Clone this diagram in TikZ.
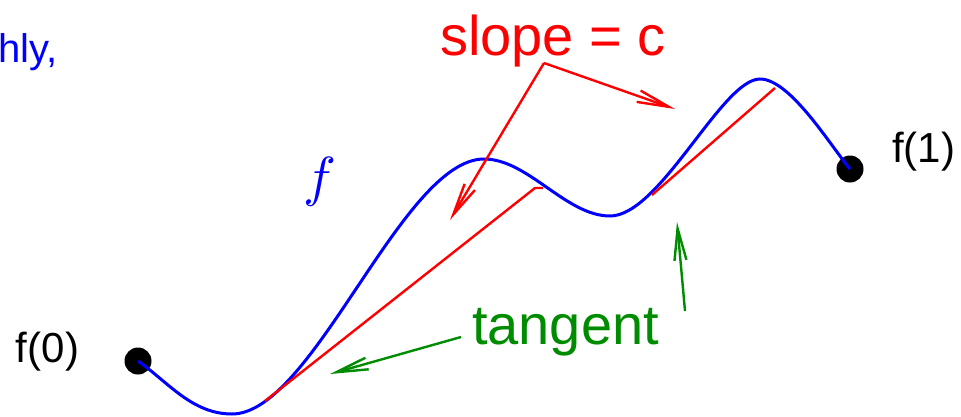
\documentclass[tikz,border=0pt]{standalone}
\usepackage{fontspec}
\setmainfont{Liberation Sans}
\usepackage{tikz}
\usetikzlibrary{arrows.meta}

\definecolor{tgreen}{RGB}{0,140,0}

\tikzset{
  curve/.style={blue, line width=3pt},
  tanline/.style={red, line width=2.4pt},
  redarrow/.style={red, line width=2.4pt, -{Straight Barb[length=32pt,width=12pt]}},
  greenarrow/.style={tgreen, line width=2.4pt, -{Straight Barb[length=32pt,width=12pt]}},
  dot/.style={circle, fill=black, minimum size=27pt, inner sep=0pt},
  bigtext/.style={font=\fontsize{56}{60}\selectfont, inner sep=0pt},
  endlabel/.style={font=\fontsize{42}{46}\selectfont, inner sep=0pt}
}

\begin{document}
\begin{tikzpicture}[x=1pt, y=-1pt]
\useasboundingbox (0,0) rectangle (961,416);

\node[blue, font=\fontsize{40}{44}\selectfont, inner sep=0pt, anchor=base west] (rough) at (-2,62) {hly,};

\node[dot] (f0) at (138,361) {};
\node[dot] (f1) at (850,169) {};
\node[endlabel, anchor=base] (f0lbl) at (47.5,362) {f(0)};
\node[endlabel, anchor=base] (f1lbl) at (923.5,162) {f(1)};

% the function
\draw[curve] (f0.center) .. controls (168,382) and (192,414) .. (232,414)
  .. controls (313,414) and (402,159) .. (484,159)
  .. controls (528,159) and (566,216) .. (610,216)
  .. controls (660,216) and (722,79) .. (760,79)
  .. controls (790,79) and (830,145) .. (f1.center);
\node[blue, scale=5.5, inner sep=0pt] (fname) at (320,182) {$f$};

% tangent lines
\draw[tanline] (265,401) -- (535,188) -- (543,188);
\draw[tanline] (652,195) -- (775,88);

\node[red, bigtext, anchor=base] (slope) at (553,55) {slope = c};
\coordinate (fork) at (544,63);
\coordinate (tipA) at (675,109);
\coordinate (tipB) at (450,220);
\draw[redarrow] (fork) -- (tipA);
\draw[redarrow] (fork) -- (tipB);

\node[tgreen, bigtext, anchor=base] (tangent) at (565.5,344) {tangent};
\coordinate (tailL) at (461,337);
\coordinate (tailR) at (685,311);
\coordinate (tipL) at (330,374);
\coordinate (tipR) at (677,222);
\draw[greenarrow] (tailL) -- (tipL);
\draw[greenarrow] (tailR) -- (tipR);
\end{tikzpicture}
\end{document}
